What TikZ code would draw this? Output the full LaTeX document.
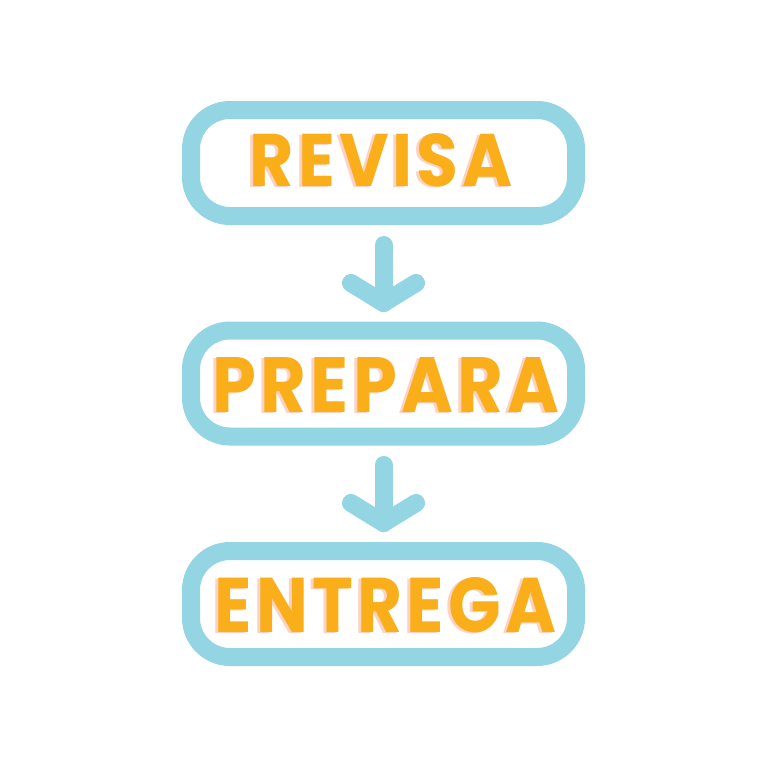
\documentclass[tikz,border=0pt]{standalone}
\usepackage{fontspec}
\usepackage{graphicx}
\newfontfamily\lblfont{Poppins}
\definecolor{boxblue}{HTML}{93D5E3}
\definecolor{lblorange}{HTML}{F9AE1A}
\definecolor{lblpink}{HTML}{FDD2C0}
\newcommand\lgap{\hspace{0.06em}}
\newcommand\lbltext[3]{\resizebox{#1}{#2}{\lblfont\bfseries #3}}
\tikzset{
  stepbox/.style={draw=boxblue, line width=18pt, rounded corners=39pt,
    minimum width=385pt, minimum height=106pt, inner sep=0pt},
  lbl/.style={inner sep=0pt, text=lblorange},
  lblshadow/.style={inner sep=0pt, text=lblpink},
  flowarrow/.style={draw=boxblue, line width=18pt, line cap=round, line join=round}
}
\begin{document}
\begin{tikzpicture}[x=1pt,y=-1pt]
\useasboundingbox (0,0) rectangle (768,768);
\fill[white] (0,0) rectangle (768,768);
% boxes
\node[stepbox] (b1) at (383.5,163) {};
\node[stepbox] (b2) at (383.5,383.5) {};
\node[stepbox] (b3) at (383.5,604) {};
% labels
\node[lblshadow] (t1s) at (378.5,161.5) {\lbltext{263pt}{53pt}{R\lgap E\lgap V\lgap I\lgap S\lgap A}};
\node[lbl] (t1) at (381.5,160.5) {\lbltext{263pt}{53pt}{R\lgap E\lgap V\lgap I\lgap S\lgap A}};
\node[lblshadow] (t2s) at (383,385.5) {\lbltext{346pt}{55pt}{P\lgap R\lgap E\lgap P\lgap A\lgap R\lgap A}};
\node[lbl] (t2) at (386,384.5) {\lbltext{346pt}{55pt}{P\lgap R\lgap E\lgap P\lgap A\lgap R\lgap A}};
\node[lblshadow] (t3s) at (382.5,606.5) {\lbltext{341pt}{55pt}{E\lgap N\lgap T\lgap R\lgap E\lgap G\lgap A}};
\node[lbl] (t3) at (385.5,605.5) {\lbltext{341pt}{55pt}{E\lgap N\lgap T\lgap R\lgap E\lgap G\lgap A}};
% arrows
\coordinate (a1s) at (383.5,245);
\coordinate (a1t) at (383.5,303);
\coordinate (a1l) at (351,283);
\coordinate (a1r) at (416,283);
\draw[flowarrow] (a1s) -- (a1t);
\draw[flowarrow] (a1l) -- (a1t) -- (a1r);
\coordinate (a2s) at (383.5,465);
\coordinate (a2t) at (383.5,523);
\coordinate (a2l) at (351,503);
\coordinate (a2r) at (416,503);
\draw[flowarrow] (a2s) -- (a2t);
\draw[flowarrow] (a2l) -- (a2t) -- (a2r);
\end{tikzpicture}
\end{document}
